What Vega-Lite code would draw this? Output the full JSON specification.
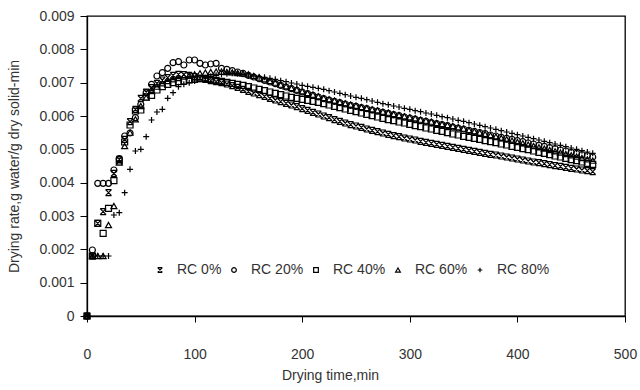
{
"$schema":"https://vega.github.io/schema/vega-lite/v6.json",
"width":538,"height":300,
"autosize":{"type":"none"},
"padding":{"left":87,"top":16,"right":15,"bottom":74},
"background":"white",
"config":{
"font":"Liberation Sans",
"view":{"stroke":"#000","strokeWidth":1.3},
"axis":{"grid":false,"domainColor":"#000","domainWidth":1.3,"tickColor":"#000","tickWidth":1,"labelFont":"Liberation Sans","labelFontSize":14,"labelColor":"#333","titleFont":"Liberation Sans","titleFontSize":14,"titleFontWeight":"normal","titleColor":"#333"},
"legend":{"labelFont":"Liberation Sans","labelFontSize":14,"labelColor":"#333"}
},
"data":{"values":[
{"s":"RC 0%","t":0,"v":0},{"s":"RC 0%","t":5,"v":0.0018},{"s":"RC 0%","t":10,"v":0.00278},{"s":"RC 0%","t":15,"v":0.00313},{"s":"RC 0%","t":20,"v":0.0037},{"s":"RC 0%","t":25,"v":0.00428},{"s":"RC 0%","t":30,"v":0.0047},{"s":"RC 0%","t":35,"v":0.0053},{"s":"RC 0%","t":40,"v":0.00583},{"s":"RC 0%","t":45,"v":0.0062},{"s":"RC 0%","t":50,"v":0.00653},{"s":"RC 0%","t":55,"v":0.00672},{"s":"RC 0%","t":60,"v":0.00685},{"s":"RC 0%","t":65,"v":0.00698},{"s":"RC 0%","t":70,"v":0.00708},{"s":"RC 0%","t":75,"v":0.00715},{"s":"RC 0%","t":80,"v":0.00722},{"s":"RC 0%","t":85,"v":0.00725},{"s":"RC 0%","t":90,"v":0.00724},{"s":"RC 0%","t":95,"v":0.00722},{"s":"RC 0%","t":100,"v":0.00718},{"s":"RC 0%","t":105,"v":0.00714},{"s":"RC 0%","t":110,"v":0.0071},{"s":"RC 0%","t":115,"v":0.00706},{"s":"RC 0%","t":120,"v":0.00703},{"s":"RC 0%","t":125,"v":0.007},{"s":"RC 0%","t":130,"v":0.00696},{"s":"RC 0%","t":135,"v":0.00691},{"s":"RC 0%","t":140,"v":0.00686},{"s":"RC 0%","t":145,"v":0.0068},{"s":"RC 0%","t":150,"v":0.00674},{"s":"RC 0%","t":155,"v":0.00669},{"s":"RC 0%","t":160,"v":0.00664},{"s":"RC 0%","t":165,"v":0.00659},{"s":"RC 0%","t":170,"v":0.00653},{"s":"RC 0%","t":175,"v":0.00648},{"s":"RC 0%","t":180,"v":0.00643},{"s":"RC 0%","t":185,"v":0.00638},{"s":"RC 0%","t":190,"v":0.00633},{"s":"RC 0%","t":195,"v":0.00628},{"s":"RC 0%","t":200,"v":0.00622},{"s":"RC 0%","t":205,"v":0.00617},{"s":"RC 0%","t":210,"v":0.00611},{"s":"RC 0%","t":215,"v":0.00606},{"s":"RC 0%","t":220,"v":0.006},{"s":"RC 0%","t":225,"v":0.00595},{"s":"RC 0%","t":230,"v":0.00589},{"s":"RC 0%","t":235,"v":0.00584},{"s":"RC 0%","t":240,"v":0.00579},{"s":"RC 0%","t":245,"v":0.00574},{"s":"RC 0%","t":250,"v":0.0057},{"s":"RC 0%","t":255,"v":0.00566},{"s":"RC 0%","t":260,"v":0.00561},{"s":"RC 0%","t":265,"v":0.00557},{"s":"RC 0%","t":270,"v":0.00553},{"s":"RC 0%","t":275,"v":0.00549},{"s":"RC 0%","t":280,"v":0.00545},{"s":"RC 0%","t":285,"v":0.00541},{"s":"RC 0%","t":290,"v":0.00538},{"s":"RC 0%","t":295,"v":0.00534},{"s":"RC 0%","t":300,"v":0.00531},{"s":"RC 0%","t":305,"v":0.00528},{"s":"RC 0%","t":310,"v":0.00524},{"s":"RC 0%","t":315,"v":0.00521},{"s":"RC 0%","t":320,"v":0.00518},{"s":"RC 0%","t":325,"v":0.00515},{"s":"RC 0%","t":330,"v":0.00512},{"s":"RC 0%","t":335,"v":0.00509},{"s":"RC 0%","t":340,"v":0.00506},{"s":"RC 0%","t":345,"v":0.00503},{"s":"RC 0%","t":350,"v":0.005},{"s":"RC 0%","t":355,"v":0.00497},{"s":"RC 0%","t":360,"v":0.00494},{"s":"RC 0%","t":365,"v":0.00491},{"s":"RC 0%","t":370,"v":0.00488},{"s":"RC 0%","t":375,"v":0.00485},{"s":"RC 0%","t":380,"v":0.00483},{"s":"RC 0%","t":385,"v":0.0048},{"s":"RC 0%","t":390,"v":0.00477},{"s":"RC 0%","t":395,"v":0.00474},{"s":"RC 0%","t":400,"v":0.00471},{"s":"RC 0%","t":405,"v":0.00468},{"s":"RC 0%","t":410,"v":0.00465},{"s":"RC 0%","t":415,"v":0.00462},{"s":"RC 0%","t":420,"v":0.0046},{"s":"RC 0%","t":425,"v":0.00457},{"s":"RC 0%","t":430,"v":0.00454},{"s":"RC 0%","t":435,"v":0.00451},{"s":"RC 0%","t":440,"v":0.00449},{"s":"RC 0%","t":445,"v":0.00446},{"s":"RC 0%","t":450,"v":0.00443},{"s":"RC 0%","t":455,"v":0.00441},{"s":"RC 0%","t":460,"v":0.00438},{"s":"RC 0%","t":465,"v":0.00436},{"s":"RC 0%","t":470,"v":0.00433},
{"s":"RC 20%","t":0,"v":0},{"s":"RC 20%","t":5,"v":0.00198},{"s":"RC 20%","t":10,"v":0.00398},{"s":"RC 20%","t":15,"v":0.00398},{"s":"RC 20%","t":20,"v":0.00398},{"s":"RC 20%","t":25,"v":0.00438},{"s":"RC 20%","t":30,"v":0.00472},{"s":"RC 20%","t":35,"v":0.0054},{"s":"RC 20%","t":40,"v":0.00549},{"s":"RC 20%","t":45,"v":0.00595},{"s":"RC 20%","t":50,"v":0.00635},{"s":"RC 20%","t":55,"v":0.0067},{"s":"RC 20%","t":60,"v":0.00695},{"s":"RC 20%","t":65,"v":0.0072},{"s":"RC 20%","t":70,"v":0.0073},{"s":"RC 20%","t":75,"v":0.00743},{"s":"RC 20%","t":80,"v":0.0076},{"s":"RC 20%","t":85,"v":0.00763},{"s":"RC 20%","t":90,"v":0.00753},{"s":"RC 20%","t":95,"v":0.00768},{"s":"RC 20%","t":100,"v":0.00768},{"s":"RC 20%","t":105,"v":0.00758},{"s":"RC 20%","t":110,"v":0.00753},{"s":"RC 20%","t":115,"v":0.00756},{"s":"RC 20%","t":120,"v":0.00758},{"s":"RC 20%","t":125,"v":0.00743},{"s":"RC 20%","t":130,"v":0.0074},{"s":"RC 20%","t":135,"v":0.00736},{"s":"RC 20%","t":140,"v":0.00732},{"s":"RC 20%","t":145,"v":0.00728},{"s":"RC 20%","t":150,"v":0.00722},{"s":"RC 20%","t":155,"v":0.00717},{"s":"RC 20%","t":160,"v":0.00712},{"s":"RC 20%","t":165,"v":0.00707},{"s":"RC 20%","t":170,"v":0.00702},{"s":"RC 20%","t":175,"v":0.00697},{"s":"RC 20%","t":180,"v":0.00692},{"s":"RC 20%","t":185,"v":0.00687},{"s":"RC 20%","t":190,"v":0.00682},{"s":"RC 20%","t":195,"v":0.00677},{"s":"RC 20%","t":200,"v":0.00672},{"s":"RC 20%","t":205,"v":0.00667},{"s":"RC 20%","t":210,"v":0.00662},{"s":"RC 20%","t":215,"v":0.00657},{"s":"RC 20%","t":220,"v":0.00652},{"s":"RC 20%","t":225,"v":0.00648},{"s":"RC 20%","t":230,"v":0.00644},{"s":"RC 20%","t":235,"v":0.0064},{"s":"RC 20%","t":240,"v":0.00636},{"s":"RC 20%","t":245,"v":0.00632},{"s":"RC 20%","t":250,"v":0.00629},{"s":"RC 20%","t":255,"v":0.00625},{"s":"RC 20%","t":260,"v":0.00622},{"s":"RC 20%","t":265,"v":0.00618},{"s":"RC 20%","t":270,"v":0.00615},{"s":"RC 20%","t":275,"v":0.00611},{"s":"RC 20%","t":280,"v":0.00608},{"s":"RC 20%","t":285,"v":0.00604},{"s":"RC 20%","t":290,"v":0.00601},{"s":"RC 20%","t":295,"v":0.00597},{"s":"RC 20%","t":300,"v":0.00594},{"s":"RC 20%","t":305,"v":0.00591},{"s":"RC 20%","t":310,"v":0.00587},{"s":"RC 20%","t":315,"v":0.00584},{"s":"RC 20%","t":320,"v":0.0058},{"s":"RC 20%","t":325,"v":0.00577},{"s":"RC 20%","t":330,"v":0.00574},{"s":"RC 20%","t":335,"v":0.00571},{"s":"RC 20%","t":340,"v":0.00567},{"s":"RC 20%","t":345,"v":0.00564},{"s":"RC 20%","t":350,"v":0.00561},{"s":"RC 20%","t":355,"v":0.00557},{"s":"RC 20%","t":360,"v":0.00554},{"s":"RC 20%","t":365,"v":0.0055},{"s":"RC 20%","t":370,"v":0.00547},{"s":"RC 20%","t":375,"v":0.00543},{"s":"RC 20%","t":380,"v":0.0054},{"s":"RC 20%","t":385,"v":0.00536},{"s":"RC 20%","t":390,"v":0.00533},{"s":"RC 20%","t":395,"v":0.0053},{"s":"RC 20%","t":400,"v":0.00526},{"s":"RC 20%","t":405,"v":0.00523},{"s":"RC 20%","t":410,"v":0.00519},{"s":"RC 20%","t":415,"v":0.00516},{"s":"RC 20%","t":420,"v":0.00512},{"s":"RC 20%","t":425,"v":0.00509},{"s":"RC 20%","t":430,"v":0.00505},{"s":"RC 20%","t":435,"v":0.00502},{"s":"RC 20%","t":440,"v":0.00498},{"s":"RC 20%","t":445,"v":0.00495},{"s":"RC 20%","t":450,"v":0.00491},{"s":"RC 20%","t":455,"v":0.00488},{"s":"RC 20%","t":460,"v":0.00484},{"s":"RC 20%","t":465,"v":0.00481},{"s":"RC 20%","t":470,"v":0.00477},
{"s":"RC 40%","t":0,"v":0},{"s":"RC 40%","t":5,"v":0.0018},{"s":"RC 40%","t":10,"v":0.00278},{"s":"RC 40%","t":15,"v":0.00248},{"s":"RC 40%","t":20,"v":0.00323},{"s":"RC 40%","t":25,"v":0.00406},{"s":"RC 40%","t":30,"v":0.00465},{"s":"RC 40%","t":35,"v":0.00522},{"s":"RC 40%","t":40,"v":0.00573},{"s":"RC 40%","t":45,"v":0.00615},{"s":"RC 40%","t":50,"v":0.00618},{"s":"RC 40%","t":55,"v":0.00657},{"s":"RC 40%","t":60,"v":0.00662},{"s":"RC 40%","t":65,"v":0.00678},{"s":"RC 40%","t":70,"v":0.00688},{"s":"RC 40%","t":75,"v":0.00695},{"s":"RC 40%","t":80,"v":0.007},{"s":"RC 40%","t":85,"v":0.00703},{"s":"RC 40%","t":90,"v":0.00705},{"s":"RC 40%","t":95,"v":0.00708},{"s":"RC 40%","t":100,"v":0.0071},{"s":"RC 40%","t":105,"v":0.00712},{"s":"RC 40%","t":110,"v":0.00712},{"s":"RC 40%","t":115,"v":0.0071},{"s":"RC 40%","t":120,"v":0.00707},{"s":"RC 40%","t":125,"v":0.00704},{"s":"RC 40%","t":130,"v":0.00701},{"s":"RC 40%","t":135,"v":0.00698},{"s":"RC 40%","t":140,"v":0.00695},{"s":"RC 40%","t":145,"v":0.00692},{"s":"RC 40%","t":150,"v":0.00688},{"s":"RC 40%","t":155,"v":0.00684},{"s":"RC 40%","t":160,"v":0.0068},{"s":"RC 40%","t":165,"v":0.00676},{"s":"RC 40%","t":170,"v":0.00672},{"s":"RC 40%","t":175,"v":0.00668},{"s":"RC 40%","t":180,"v":0.00664},{"s":"RC 40%","t":185,"v":0.0066},{"s":"RC 40%","t":190,"v":0.00656},{"s":"RC 40%","t":195,"v":0.00653},{"s":"RC 40%","t":200,"v":0.0065},{"s":"RC 40%","t":205,"v":0.00647},{"s":"RC 40%","t":210,"v":0.00644},{"s":"RC 40%","t":215,"v":0.00641},{"s":"RC 40%","t":220,"v":0.00637},{"s":"RC 40%","t":225,"v":0.00633},{"s":"RC 40%","t":230,"v":0.00629},{"s":"RC 40%","t":235,"v":0.00625},{"s":"RC 40%","t":240,"v":0.00621},{"s":"RC 40%","t":245,"v":0.00617},{"s":"RC 40%","t":250,"v":0.00613},{"s":"RC 40%","t":255,"v":0.00609},{"s":"RC 40%","t":260,"v":0.00605},{"s":"RC 40%","t":265,"v":0.00601},{"s":"RC 40%","t":270,"v":0.00597},{"s":"RC 40%","t":275,"v":0.00593},{"s":"RC 40%","t":280,"v":0.00589},{"s":"RC 40%","t":285,"v":0.00586},{"s":"RC 40%","t":290,"v":0.00582},{"s":"RC 40%","t":295,"v":0.00579},{"s":"RC 40%","t":300,"v":0.00575},{"s":"RC 40%","t":305,"v":0.00571},{"s":"RC 40%","t":310,"v":0.00568},{"s":"RC 40%","t":315,"v":0.00564},{"s":"RC 40%","t":320,"v":0.00561},{"s":"RC 40%","t":325,"v":0.00557},{"s":"RC 40%","t":330,"v":0.00554},{"s":"RC 40%","t":335,"v":0.0055},{"s":"RC 40%","t":340,"v":0.00546},{"s":"RC 40%","t":345,"v":0.00543},{"s":"RC 40%","t":350,"v":0.00539},{"s":"RC 40%","t":355,"v":0.00536},{"s":"RC 40%","t":360,"v":0.00533},{"s":"RC 40%","t":365,"v":0.0053},{"s":"RC 40%","t":370,"v":0.00526},{"s":"RC 40%","t":375,"v":0.00523},{"s":"RC 40%","t":380,"v":0.0052},{"s":"RC 40%","t":385,"v":0.00516},{"s":"RC 40%","t":390,"v":0.00513},{"s":"RC 40%","t":395,"v":0.00509},{"s":"RC 40%","t":400,"v":0.00506},{"s":"RC 40%","t":405,"v":0.00502},{"s":"RC 40%","t":410,"v":0.00499},{"s":"RC 40%","t":415,"v":0.00495},{"s":"RC 40%","t":420,"v":0.00491},{"s":"RC 40%","t":425,"v":0.00488},{"s":"RC 40%","t":430,"v":0.00484},{"s":"RC 40%","t":435,"v":0.0048},{"s":"RC 40%","t":440,"v":0.00477},{"s":"RC 40%","t":445,"v":0.00473},{"s":"RC 40%","t":450,"v":0.00469},{"s":"RC 40%","t":455,"v":0.00466},{"s":"RC 40%","t":460,"v":0.00462},{"s":"RC 40%","t":465,"v":0.00458},{"s":"RC 40%","t":470,"v":0.00455},
{"s":"RC 60%","t":0,"v":0},{"s":"RC 60%","t":5,"v":0.0018},{"s":"RC 60%","t":10,"v":0.0018},{"s":"RC 60%","t":15,"v":0.0018},{"s":"RC 60%","t":20,"v":0.00273},{"s":"RC 60%","t":25,"v":0.0033},{"s":"RC 60%","t":30,"v":0.0046},{"s":"RC 60%","t":35,"v":0.0051},{"s":"RC 60%","t":40,"v":0.0055},{"s":"RC 60%","t":45,"v":0.0059},{"s":"RC 60%","t":50,"v":0.0063},{"s":"RC 60%","t":55,"v":0.00655},{"s":"RC 60%","t":60,"v":0.00675},{"s":"RC 60%","t":65,"v":0.00688},{"s":"RC 60%","t":70,"v":0.00698},{"s":"RC 60%","t":75,"v":0.00705},{"s":"RC 60%","t":80,"v":0.0071},{"s":"RC 60%","t":85,"v":0.00714},{"s":"RC 60%","t":90,"v":0.00718},{"s":"RC 60%","t":95,"v":0.00722},{"s":"RC 60%","t":100,"v":0.00725},{"s":"RC 60%","t":105,"v":0.00728},{"s":"RC 60%","t":110,"v":0.0073},{"s":"RC 60%","t":115,"v":0.00732},{"s":"RC 60%","t":120,"v":0.00733},{"s":"RC 60%","t":125,"v":0.00733},{"s":"RC 60%","t":130,"v":0.00732},{"s":"RC 60%","t":135,"v":0.00731},{"s":"RC 60%","t":140,"v":0.00729},{"s":"RC 60%","t":145,"v":0.00727},{"s":"RC 60%","t":150,"v":0.00725},{"s":"RC 60%","t":155,"v":0.0072},{"s":"RC 60%","t":160,"v":0.00715},{"s":"RC 60%","t":165,"v":0.0071},{"s":"RC 60%","t":170,"v":0.00705},{"s":"RC 60%","t":175,"v":0.007},{"s":"RC 60%","t":180,"v":0.00694},{"s":"RC 60%","t":185,"v":0.00689},{"s":"RC 60%","t":190,"v":0.00684},{"s":"RC 60%","t":195,"v":0.00679},{"s":"RC 60%","t":200,"v":0.00674},{"s":"RC 60%","t":205,"v":0.00669},{"s":"RC 60%","t":210,"v":0.00664},{"s":"RC 60%","t":215,"v":0.00659},{"s":"RC 60%","t":220,"v":0.00654},{"s":"RC 60%","t":225,"v":0.0065},{"s":"RC 60%","t":230,"v":0.00646},{"s":"RC 60%","t":235,"v":0.00642},{"s":"RC 60%","t":240,"v":0.00638},{"s":"RC 60%","t":245,"v":0.00634},{"s":"RC 60%","t":250,"v":0.00631},{"s":"RC 60%","t":255,"v":0.00627},{"s":"RC 60%","t":260,"v":0.00624},{"s":"RC 60%","t":265,"v":0.0062},{"s":"RC 60%","t":270,"v":0.00617},{"s":"RC 60%","t":275,"v":0.00613},{"s":"RC 60%","t":280,"v":0.0061},{"s":"RC 60%","t":285,"v":0.00606},{"s":"RC 60%","t":290,"v":0.00603},{"s":"RC 60%","t":295,"v":0.00599},{"s":"RC 60%","t":300,"v":0.00596},{"s":"RC 60%","t":305,"v":0.00593},{"s":"RC 60%","t":310,"v":0.00589},{"s":"RC 60%","t":315,"v":0.00586},{"s":"RC 60%","t":320,"v":0.00583},{"s":"RC 60%","t":325,"v":0.00579},{"s":"RC 60%","t":330,"v":0.00576},{"s":"RC 60%","t":335,"v":0.00573},{"s":"RC 60%","t":340,"v":0.0057},{"s":"RC 60%","t":345,"v":0.00566},{"s":"RC 60%","t":350,"v":0.00562},{"s":"RC 60%","t":355,"v":0.00558},{"s":"RC 60%","t":360,"v":0.00554},{"s":"RC 60%","t":365,"v":0.0055},{"s":"RC 60%","t":370,"v":0.00546},{"s":"RC 60%","t":375,"v":0.00542},{"s":"RC 60%","t":380,"v":0.00538},{"s":"RC 60%","t":385,"v":0.00534},{"s":"RC 60%","t":390,"v":0.0053},{"s":"RC 60%","t":395,"v":0.00526},{"s":"RC 60%","t":400,"v":0.00522},{"s":"RC 60%","t":405,"v":0.00518},{"s":"RC 60%","t":410,"v":0.00514},{"s":"RC 60%","t":415,"v":0.0051},{"s":"RC 60%","t":420,"v":0.00506},{"s":"RC 60%","t":425,"v":0.00502},{"s":"RC 60%","t":430,"v":0.00498},{"s":"RC 60%","t":435,"v":0.00494},{"s":"RC 60%","t":440,"v":0.0049},{"s":"RC 60%","t":445,"v":0.00486},{"s":"RC 60%","t":450,"v":0.00482},{"s":"RC 60%","t":455,"v":0.00478},{"s":"RC 60%","t":460,"v":0.00474},{"s":"RC 60%","t":465,"v":0.0047},{"s":"RC 60%","t":470,"v":0.00466},
{"s":"RC 80%","t":0,"v":0},{"s":"RC 80%","t":5,"v":0.0018},{"s":"RC 80%","t":10,"v":0.0018},{"s":"RC 80%","t":15,"v":0.0018},{"s":"RC 80%","t":20,"v":0.0018},{"s":"RC 80%","t":25,"v":0.00303},{"s":"RC 80%","t":30,"v":0.0031},{"s":"RC 80%","t":35,"v":0.0037},{"s":"RC 80%","t":40,"v":0.0044},{"s":"RC 80%","t":45,"v":0.00495},{"s":"RC 80%","t":50,"v":0.005},{"s":"RC 80%","t":55,"v":0.00538},{"s":"RC 80%","t":60,"v":0.00588},{"s":"RC 80%","t":65,"v":0.00612},{"s":"RC 80%","t":70,"v":0.0062},{"s":"RC 80%","t":75,"v":0.00653},{"s":"RC 80%","t":80,"v":0.0067},{"s":"RC 80%","t":85,"v":0.00688},{"s":"RC 80%","t":90,"v":0.00695},{"s":"RC 80%","t":95,"v":0.007},{"s":"RC 80%","t":100,"v":0.00705},{"s":"RC 80%","t":105,"v":0.0071},{"s":"RC 80%","t":110,"v":0.00715},{"s":"RC 80%","t":115,"v":0.00719},{"s":"RC 80%","t":120,"v":0.00722},{"s":"RC 80%","t":125,"v":0.00725},{"s":"RC 80%","t":130,"v":0.00727},{"s":"RC 80%","t":135,"v":0.00728},{"s":"RC 80%","t":140,"v":0.00727},{"s":"RC 80%","t":145,"v":0.00725},{"s":"RC 80%","t":150,"v":0.00723},{"s":"RC 80%","t":155,"v":0.0072},{"s":"RC 80%","t":160,"v":0.00718},{"s":"RC 80%","t":165,"v":0.00716},{"s":"RC 80%","t":170,"v":0.00713},{"s":"RC 80%","t":175,"v":0.0071},{"s":"RC 80%","t":180,"v":0.00706},{"s":"RC 80%","t":185,"v":0.00703},{"s":"RC 80%","t":190,"v":0.00699},{"s":"RC 80%","t":195,"v":0.00696},{"s":"RC 80%","t":200,"v":0.00692},{"s":"RC 80%","t":205,"v":0.00689},{"s":"RC 80%","t":210,"v":0.00686},{"s":"RC 80%","t":215,"v":0.00683},{"s":"RC 80%","t":220,"v":0.0068},{"s":"RC 80%","t":225,"v":0.00676},{"s":"RC 80%","t":230,"v":0.00672},{"s":"RC 80%","t":235,"v":0.00668},{"s":"RC 80%","t":240,"v":0.00664},{"s":"RC 80%","t":245,"v":0.0066},{"s":"RC 80%","t":250,"v":0.00656},{"s":"RC 80%","t":255,"v":0.00653},{"s":"RC 80%","t":260,"v":0.00649},{"s":"RC 80%","t":265,"v":0.00645},{"s":"RC 80%","t":270,"v":0.00641},{"s":"RC 80%","t":275,"v":0.00637},{"s":"RC 80%","t":280,"v":0.00634},{"s":"RC 80%","t":285,"v":0.0063},{"s":"RC 80%","t":290,"v":0.00627},{"s":"RC 80%","t":295,"v":0.00623},{"s":"RC 80%","t":300,"v":0.0062},{"s":"RC 80%","t":305,"v":0.00616},{"s":"RC 80%","t":310,"v":0.00613},{"s":"RC 80%","t":315,"v":0.00609},{"s":"RC 80%","t":320,"v":0.00606},{"s":"RC 80%","t":325,"v":0.00602},{"s":"RC 80%","t":330,"v":0.00598},{"s":"RC 80%","t":335,"v":0.00595},{"s":"RC 80%","t":340,"v":0.00591},{"s":"RC 80%","t":345,"v":0.00587},{"s":"RC 80%","t":350,"v":0.00584},{"s":"RC 80%","t":355,"v":0.0058},{"s":"RC 80%","t":360,"v":0.00576},{"s":"RC 80%","t":365,"v":0.00572},{"s":"RC 80%","t":370,"v":0.00568},{"s":"RC 80%","t":375,"v":0.00564},{"s":"RC 80%","t":380,"v":0.0056},{"s":"RC 80%","t":385,"v":0.00556},{"s":"RC 80%","t":390,"v":0.00552},{"s":"RC 80%","t":395,"v":0.00548},{"s":"RC 80%","t":400,"v":0.00544},{"s":"RC 80%","t":405,"v":0.0054},{"s":"RC 80%","t":410,"v":0.00536},{"s":"RC 80%","t":415,"v":0.00532},{"s":"RC 80%","t":420,"v":0.00528},{"s":"RC 80%","t":425,"v":0.00524},{"s":"RC 80%","t":430,"v":0.0052},{"s":"RC 80%","t":435,"v":0.00516},{"s":"RC 80%","t":440,"v":0.00512},{"s":"RC 80%","t":445,"v":0.00508},{"s":"RC 80%","t":450,"v":0.00504},{"s":"RC 80%","t":455,"v":0.005},{"s":"RC 80%","t":460,"v":0.00496},{"s":"RC 80%","t":465,"v":0.00492},{"s":"RC 80%","t":470,"v":0.00488}
]},
"mark":{"type":"point","filled":false,"color":"#000","stroke":"#000","strokeWidth":1.2,"size":36,"opacity":1},
"encoding":{
"x":{"field":"t","type":"quantitative","scale":{"domain":[0,500],"nice":false,"zero":true},
"axis":{"title":"Drying time,min","values":[0,100,200,300,400,500],"tickSize":6,"labelPadding":32,"labelBaseline":"middle","labelFlush":false,"titleX":243,"titleY":59,"titleBaseline":"middle","titleAlign":"center"}},
"y":{"field":"v","type":"quantitative","scale":{"domain":[0,0.009],"nice":false},
"axis":{"title":"Drying rate,g water/g dry solid-min","values":[0,0.001,0.002,0.003,0.004,0.005,0.006,0.007,0.008,0.009],"format":".3~f","tickSize":7,"labelPadding":6,"labelFlush":false,"titleX":-73,"titleY":150,"titleBaseline":"middle","titleAlign":"center"}},
"shape":{"field":"s","type":"nominal","scale":{"domain":["RC 0%","RC 20%","RC 40%","RC 60%","RC 80%"],"range":["M-1,-1L1,1M1,-1L-1,1M-1,-1L1,-1M-1,1L1,1","circle","square","triangle-up","M-1,0L1,0M0,-1L0,1"]},
"legend":{"title":null,"orient":"none","direction":"horizontal","legendX":66,"legendY":247,"padding":0,"symbolSize":22,"symbolStrokeColor":"#000","symbolStrokeWidth":1.2,"symbolFillColor":"transparent","labelFontSize":14,"labelOffset":10,"columnPadding":5}}
}
}
